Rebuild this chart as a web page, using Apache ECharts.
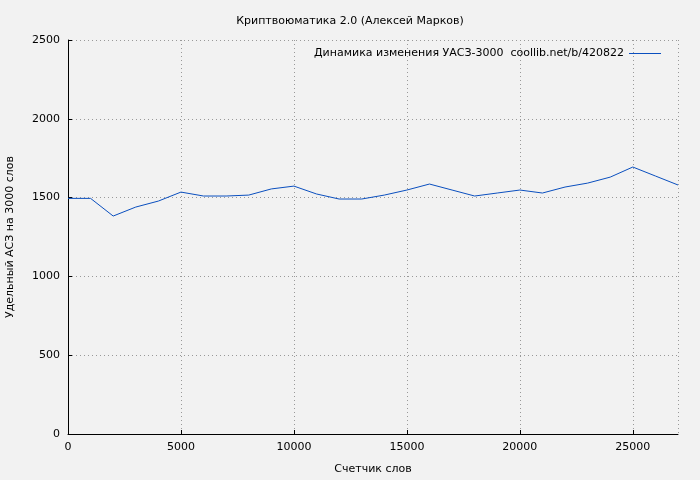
<!DOCTYPE html>
<html>
<head>
<meta charset="utf-8">
<script src="https://cdn.jsdelivr.net/npm/echarts@6/dist/echarts.min.js"></script>
<style>html,body{margin:0;padding:0;background:#f2f2f2}#chart{width:700px;height:480px}</style>
</head>
<body>
<div id="chart"></div>
<script>
// данные
const words = [0,1000,2000,3000,4000,5000,6000,7000,8000,9000,10000,11000,12000,13000,14000,15000,16000,17000,18000,19000,20000,21000,22000,23000,24000,25000,26000,27000]
const values = [1495,1495,1383,1440,1478,1535,1510,1510,1516,1555,1573,1523,1491,1491,1516,1548,1586,1548,1510,1529,1548,1529,1567,1592,1630,1694,1637,1580]

const chart = echarts.init(document.getElementById('chart'))
const font = 'DejaVu Sans'
chart.setOption({
  backgroundColor: '#f2f2f2',
  animation: false,
  title: {
    text: 'Криптвоюматика 2.0 (Алексей Марков)',
    left: 'center', top: 11,
    textStyle: { fontFamily: font, fontSize: 11, fontWeight: 'normal', color: '#000' }
  },
  legend: {
    right: 34, top: 43, itemWidth: 32, itemHeight: 1, itemGap: 8,
    align: 'right', icon: 'rect',
    textStyle: { fontFamily: font, fontSize: 11, color: '#000' }
  },
  grid: { left: 68, right: 22, top: 40, bottom: 46, outerBoundsMode: 'none' },
  xAxis: {
    type: 'value', min: 0, max: 27000, interval: 5000,
    name: 'Счетчик слов', nameLocation: 'middle', nameGap: 30,
    nameTextStyle: { fontFamily: font, fontSize: 11, color: '#000' },
    axisLine: { lineStyle: { color: '#000' } },
    axisTick: { inside: true, length: 4, lineStyle: { color: '#000' } },
    axisLabel: { fontFamily: font, fontSize: 11, color: '#000', showMaxLabel: false, formatter: v => String(v) },
    splitLine: { lineStyle: { color: '#999', type: [1, 3] } }
  },
  yAxis: {
    type: 'value', min: 0, max: 2500, interval: 500,
    name: 'Удельный АСЗ на 3000 слов', nameLocation: 'middle', nameGap: 52,
    nameTextStyle: { fontFamily: font, fontSize: 11, color: '#000' },
    axisLine: { show: true, lineStyle: { color: '#000' } },
    axisTick: { inside: true, length: 4, lineStyle: { color: '#000' } },
    axisLabel: { fontFamily: font, fontSize: 11, color: '#000', formatter: v => String(v) },
    splitLine: { lineStyle: { color: '#999', type: [1, 3] } }
  },
  series: [{
    name: 'Динамика изменения УАСЗ-3000  coollib.net/b/420822',
    type: 'line',
    data: words.map((w, i) => [w, values[i]]),
    showSymbol: false,
    lineStyle: { color: '#0a4fbf', width: 1 },
    itemStyle: { color: '#0a4fbf' }
  }]
})
</script>
</body>
</html>
